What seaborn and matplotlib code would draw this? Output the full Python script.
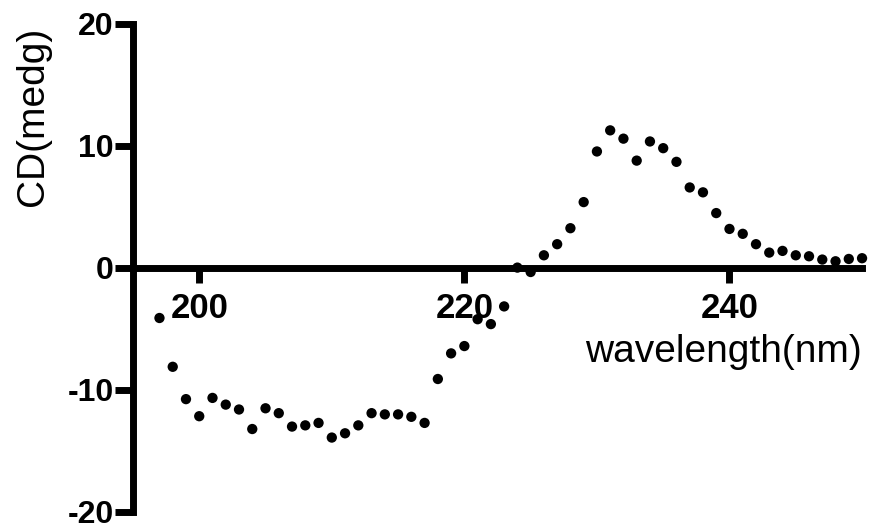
import matplotlib
matplotlib.use("Agg")
import matplotlib.pyplot as plt
import seaborn as sns
import pandas as pd

wavelength = list(range(197, 251))
cd = [-4.1, -8.1, -10.75, -12.15, -10.65, -11.2, -11.6, -13.2, -11.5, -11.9,
      -13.0, -12.9, -12.7, -13.9, -13.55, -12.9, -11.9, -12.0, -12.0, -12.2,
      -12.7, -9.1, -7.0, -6.4, -4.2, -4.6, -3.15, 0.03, -0.33, 1.04,
      1.95, 3.26, 5.4, 9.55, 11.28, 10.6, 8.8, 10.37, 9.82, 8.7,
      6.6, 6.2, 4.5, 3.2, 2.8, 1.95, 1.26, 1.4, 1.04, 0.96,
      0.69, 0.55, 0.74, 0.8]
x_ticks = [200, 220, 240]
y_ticks = [-20, -10, 0, 10, 20]

df = pd.DataFrame({"wavelength": wavelength, "cd": cd})

sns.set_style("ticks")
plt.rcParams['font.family'] = ['Liberation Sans', 'DejaVu Sans']
plt.rcParams['axes.unicode_minus'] = False
plt.rcParams['text.color'] = 'black'
plt.rcParams['axes.labelcolor'] = 'black'
plt.rcParams['xtick.color'] = 'black'
plt.rcParams['ytick.color'] = 'black'
plt.rcParams['axes.edgecolor'] = 'black'

fig = plt.figure(figsize=(8.69, 5.27), dpi=100)
ax = fig.add_axes([0.153, 0.0285, 0.839, 0.926])

sns.scatterplot(data=df, x="wavelength", y="cd", color="black", s=55,
                edgecolor="none", ax=ax, zorder=3, clip_on=False)

ax.set_xlim(195, 250)
ax.set_ylim(-20, 20)
ax.set_xticks(x_ticks)
ax.set_yticks(y_ticks)

for s in ["top", "right"]:
    ax.spines[s].set_visible(False)
ax.spines["bottom"].set_position(("data", 0))
for s in ["bottom", "left"]:
    ax.spines[s].set_linewidth(5)
    ax.spines[s].set_color("black")
    ax.spines[s].set_capstyle("projecting")

ax.tick_params(axis="y", length=13, width=5, labelsize=23, pad=1,
               colors="black")
ax.tick_params(axis="x", length=11, width=5, labelsize=25, pad=6,
               colors="black")
for lbl in ax.get_xticklabels() + ax.get_yticklabels():
    lbl.set_fontweight("bold")

ax.set_xlabel("wavelength(nm)", fontsize=28, va="center", color="black")
ax.xaxis.set_label_coords(0.81, 0.328)
ax.set_ylabel("CD(medg)", fontsize=28, va="center", color="black")
ax.yaxis.set_label_coords(-0.137, 0.81)

fig.savefig("out.png", dpi=100)
